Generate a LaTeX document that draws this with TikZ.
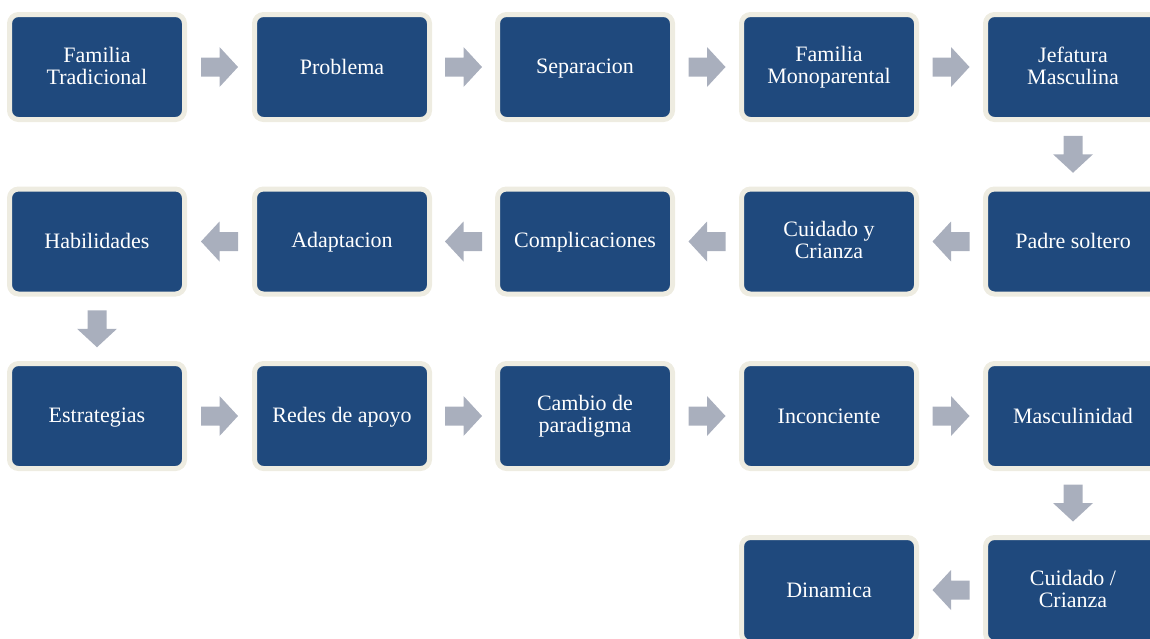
\documentclass[tikz,border=0pt]{standalone}
\usepackage{fontspec}
\setmainfont{Liberation Serif}
\usepackage{tikz}
\usetikzlibrary{calc}
\definecolor{boxblue}{RGB}{31,73,125}
\definecolor{boxrim}{RGB}{238,236,225}
\definecolor{arrowgray}{RGB}{169,175,189}
\newcommand{\blkstrut}{\rule[-2.4pt]{0pt}{19.4pt}}

\begin{document}
\begin{tikzpicture}[x=1pt,y=1pt]
\tikzstyle{every node}+=[inner sep=0pt]
\tikzstyle{blk}=[draw=boxrim, line width=5pt, fill=boxblue, rounded corners=9pt, minimum width=175pt, minimum height=105pt, text=white, align=center, font=\fontsize{22}{22}\selectfont, execute at begin node=\blkstrut, execute at end node=\blkstrut]
\tikzset{barr/.pic={\fill[arrowgray] (-18.5,-9.5) -- (0,-9.5) -- (0,-20) -- (18.5,0) -- (0,20) -- (0,9.5) -- (-18.5,9.5) -- cycle;}}
\useasboundingbox (0,0) rectangle (1150,-638);
% first row
\node [blk] (ft) at (97,-67) {Familia\\Tradicional};
\node [blk] (pr) at (342,-67) {Problema};
\node [blk] (se) at (585,-67) {Separacion};
\node [blk] (fm) at (829,-67) {Familia\\Monoparental};
\node [blk] (jm) at (1073,-67) {Jefatura\\Masculina};
% second row
\node [blk] (ps) at (1073,-241.5) {Padre soltero};
\node [blk] (cc) at (829,-241.5) {Cuidado y\\Crianza};
\node [blk] (co) at (585,-241.5) {Complicaciones};
\node [blk] (ad) at (342,-241.5) {Adaptacion};
\node [blk] (ha) at (97,-241.5) {Habilidades};
% third row
\node [blk] (es) at (97,-416) {Estrategias};
\node [blk] (ra) at (342,-416) {Redes de apoyo};
\node [blk] (cp) at (585,-416) {Cambio de\\paradigma};
\node [blk] (inc) at (829,-416) {Inconciente};
\node [blk] (ma) at (1073,-416) {Masculinidad};
% last row
\node [blk] (cu) at (1073,-590) {Cuidado /\\Crianza};
\node [blk] (di) at (829,-590) {Dinamica};
% arrows
\pic at ($(ft)!0.5!(pr)$) {barr};
\pic at ($(pr)!0.5!(se)$) {barr};
\pic at ($(se)!0.5!(fm)$) {barr};
\pic at ($(fm)!0.5!(jm)$) {barr};
\pic [rotate=-90] at ($(jm)!0.5!(ps)$) {barr};
\pic [rotate=180] at ($(ps)!0.5!(cc)$) {barr};
\pic [rotate=180] at ($(cc)!0.5!(co)$) {barr};
\pic [rotate=180] at ($(co)!0.5!(ad)$) {barr};
\pic [rotate=180] at ($(ad)!0.5!(ha)$) {barr};
\pic [rotate=-90] at ($(ha)!0.5!(es)$) {barr};
\pic at ($(es)!0.5!(ra)$) {barr};
\pic at ($(ra)!0.5!(cp)$) {barr};
\pic at ($(cp)!0.5!(inc)$) {barr};
\pic at ($(inc)!0.5!(ma)$) {barr};
\pic [rotate=-90] at ($(ma)!0.5!(cu)$) {barr};
\pic [rotate=180] at ($(cu)!0.5!(di)$) {barr};
\end{tikzpicture}
\end{document}
